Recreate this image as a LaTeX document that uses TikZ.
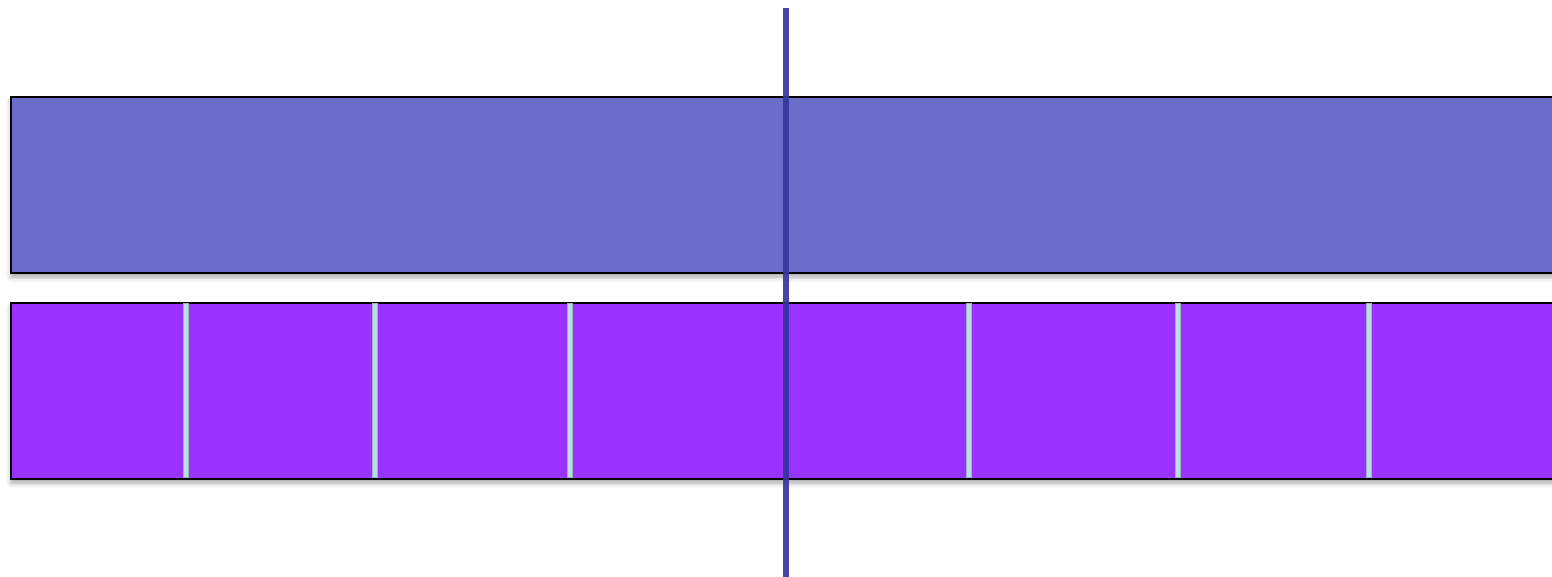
\documentclass[tikz,border=0pt]{standalone}
\usetikzlibrary{shadows.blur}
\definecolor{barblue}{HTML}{6C6CCB}
\definecolor{barpurple}{HTML}{9933FF}
\definecolor{seplight}{HTML}{B8DFE6}
\definecolor{sepedge}{HTML}{9AB6C0}
\definecolor{axisblue}{HTML}{36369C}
\tikzset{
  bar/.style={draw=black, line width=2pt, anchor=north west, inner sep=0pt,
    minimum width=1560pt, minimum height=176pt,
    blur shadow={shadow xshift=0pt, shadow yshift=-4pt, shadow blur radius=5pt, shadow opacity=35}},
  sep/.style={draw=sepedge, fill=seplight, line width=0.6pt},
  axis/.style={draw=axisblue, line width=5.5pt, opacity=0.92},
}
\begin{document}
\begin{tikzpicture}[x=1pt,y=-1pt]
\useasboundingbox (0,0) rectangle (1552,576);
\clip (0,0) rectangle (1552,576);
\node[bar, fill=barblue] (top) at (10,96) {};
\node[bar, fill=barpurple] (bottom) at (10,302) {};
\foreach \x [count=\i] in {186,375,570,969,1178,1369}{
  \coordinate (s\i a) at (\x-2.5,303);
  \coordinate (s\i b) at (\x+2.5,477);
  \path[sep] (s\i a) rectangle (s\i b);
}
\coordinate (ltop) at (786,8);
\coordinate (lbot) at (786,580);
\draw[axis] (ltop) -- (lbot);
\end{tikzpicture}
\end{document}
